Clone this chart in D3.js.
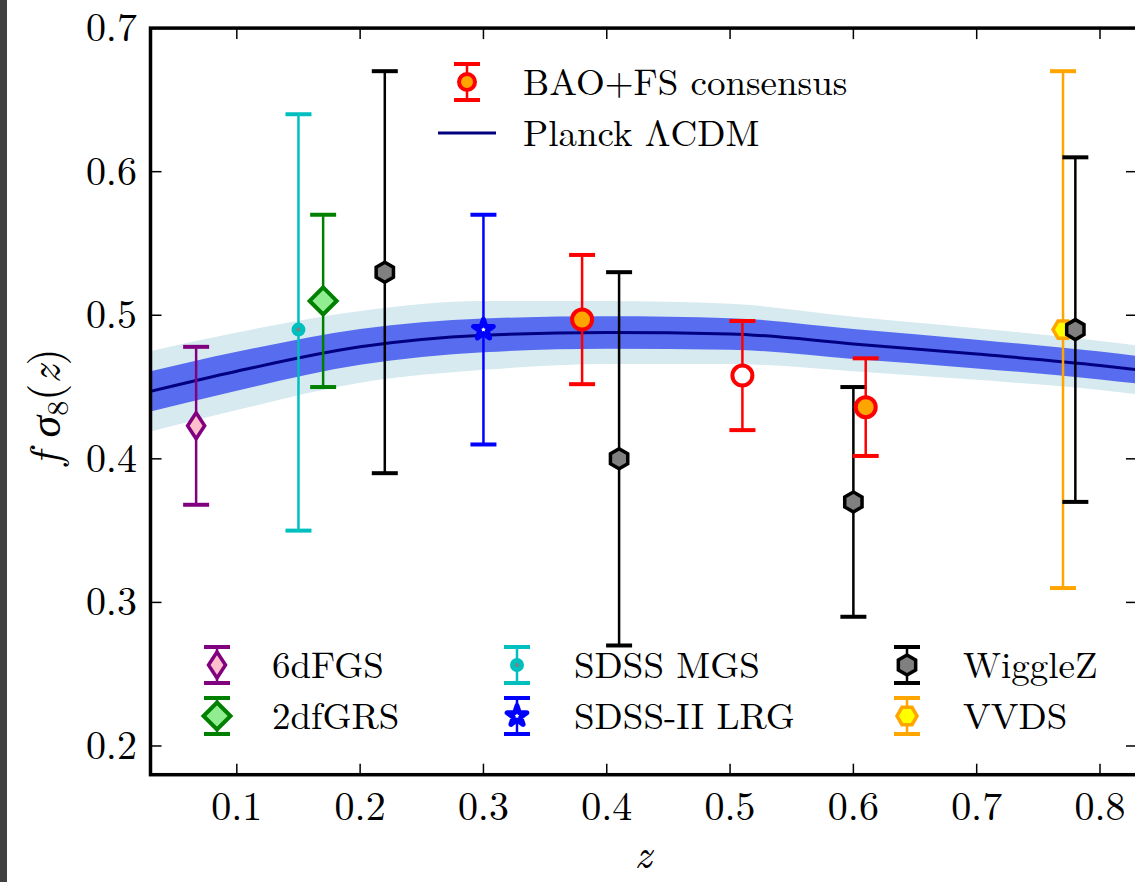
<!DOCTYPE html>
<html>
<head>
<meta charset="utf-8">
<script src="https://cdn.jsdelivr.net/npm/d3@7"></script>
<style>
  html, body { margin: 0; padding: 0; background: #fff; overflow: hidden; }
  svg { display: block; }
</style>
</head>
<body>
<svg id="chart" width="1135" height="882"></svg>
<script>
// ---- Planck LCDM prediction for f*sigma8(z) with 1- and 2-sigma widths ----
const planckZ   = [0.03, 0.1, 0.2, 0.3, 0.4, 0.5, 0.6, 0.7, 0.8, 0.83];
const planckF   = [0.447, 0.461, 0.478, 0.486, 0.488, 0.487, 0.480, 0.473, 0.465, 0.462];
const planck1s  = [0.014, 0.0135, 0.0125, 0.0118, 0.0113, 0.011, 0.0105, 0.0100, 0.0097, 0.0096];
const planck2s  = [0.028, 0.027, 0.025, 0.024, 0.022, 0.021, 0.019, 0.018, 0.017, 0.017];

// ---- measurements ----
const sixdfZ = [0.067], sixdfF = [0.423], sixdfErrLo = [0.055], sixdfErrHi = [0.055];
const twodfZ = [0.17],  twodfF = [0.51],  twodfErrLo = [0.06],  twodfErrHi = [0.06];
const mgsZ   = [0.15],  mgsF   = [0.49],  mgsErrLo   = [0.14],  mgsErrHi   = [0.15];
const lrgZ   = [0.30],  lrgF   = [0.49],  lrgErrLo   = [0.08],  lrgErrHi   = [0.08];
const vvdsZ  = [0.77],  vvdsF  = [0.49],  vvdsErrLo  = [0.18],  vvdsErrHi  = [0.18];
const wigZ   = [0.22, 0.41, 0.60, 0.78];
const wigF   = [0.53, 0.40, 0.37, 0.49];
const wigErr = [0.14, 0.13, 0.08, 0.12];
const baoZ   = [0.38, 0.51, 0.61];
const baoF   = [0.497, 0.458, 0.436];
const baoErr = [0.045, 0.038, 0.034];
const baoFill = ["orange", "white", "orange"];

const xTicks = [0.1, 0.2, 0.3, 0.4, 0.5, 0.6, 0.7, 0.8];
const yTicks = [0.2, 0.3, 0.4, 0.5, 0.6, 0.7];

const FONT = "Latin Modern Roman";
const svg = d3.select("#chart");

// dark strip along the left border
svg.append("rect").attr("x", 0).attr("y", 0).attr("width", 7).attr("height", 882).attr("fill", "#404040");

const L = 150.5, R = 1137, T = 28.1, B = 774.7;
const x = d3.scaleLinear().domain([0.03, 0.83]).range([L, R]);
const y = d3.scaleLinear().domain([0.18, 0.70]).range([B, T]);

svg.append("defs").append("clipPath").attr("id", "plotclip")
  .append("rect").attr("x", L).attr("y", T).attr("width", R - L).attr("height", B - T);

const plot = svg.append("g").attr("clip-path", "url(#plotclip)");

// theory bands and central line
const idx = d3.range(planckZ.length);
const band = w => d3.area().curve(d3.curveMonotoneX)
  .x(i => x(planckZ[i])).y0(i => y(planckF[i] - w[i])).y1(i => y(planckF[i] + w[i]));
plot.append("path").datum(idx).attr("d", band(planck2s)).attr("fill", "#d6eaf0");
plot.append("path").datum(idx).attr("d", band(planck1s)).attr("fill", "#586cf0");
plot.append("path").datum(idx)
  .attr("d", d3.line().curve(d3.curveMonotoneX).x(i => x(planckZ[i])).y(i => y(planckF[i])))
  .attr("fill", "none").attr("stroke", "#000080").attr("stroke-width", 3);

// marker shapes
const diamondThin = "M0,-13L8.5,0L0,13L-8.5,0Z";
const diamondSq   = "M0,-13.5L13.5,0L0,13.5L-13.5,0Z";
const hexPointy = (() => { const r = 10; return "M" + d3.range(6).map(k => { const a = Math.PI / 3 * k - Math.PI / 2; return [r * Math.cos(a), r * Math.sin(a)]; }).join("L") + "Z"; })();
const hexFlat   = (() => { const r = 10; return "M" + d3.range(6).map(k => { const a = Math.PI / 3 * k; return [r * Math.cos(a), r * Math.sin(a)]; }).join("L") + "Z"; })();
const star = d3.symbol().type(d3.symbolStar).size(120)();

function errorbar(g, cx, cy, cyLo, cyHi, color, lw) {
  g.append("line").attr("x1", cx).attr("x2", cx).attr("y1", cyLo).attr("y2", cyHi)
    .attr("stroke", color).attr("stroke-width", lw);
  [cyLo, cyHi].forEach(c => g.append("line").attr("x1", cx - 13).attr("x2", cx + 13).attr("y1", c).attr("y2", c)
    .attr("stroke", color).attr("stroke-width", 4));
}
function marker(g, cx, cy, m) {
  if (m.type === "circle") {
    g.append("circle").attr("cx", cx).attr("cy", cy).attr("r", m.r)
      .attr("fill", m.fill).attr("stroke", m.stroke).attr("stroke-width", m.sw);
  } else {
    g.append("path").attr("d", m.path).attr("transform", `translate(${cx},${cy})`)
      .attr("fill", m.fill).attr("stroke", m.stroke).attr("stroke-width", m.sw)
      .attr("stroke-linejoin", m.join || "miter");
  }
}

const series = [
  { name: "6dFGS", z: sixdfZ, f: sixdfF, lo: sixdfErrLo, hi: sixdfErrHi, color: "purple", lw: 2.5,
    m: { path: diamondThin, fill: "pink", stroke: "purple", sw: 3.5 } },
  { name: "SDSS MGS", z: mgsZ, f: mgsF, lo: mgsErrLo, hi: mgsErrHi, color: "#00bfbf", lw: 2.5,
    m: { type: "circle", r: 4.5, fill: "gray", stroke: "#00bfbf", sw: 5 } },
  { name: "2dfGRS", z: twodfZ, f: twodfF, lo: twodfErrLo, hi: twodfErrHi, color: "green", lw: 2.5,
    m: { path: diamondSq, fill: "lightgreen", stroke: "green", sw: 4 } },
  { name: "SDSS-II LRG", z: lrgZ, f: lrgF, lo: lrgErrLo, hi: lrgErrHi, color: "blue", lw: 2.5,
    m: { path: star, fill: "white", stroke: "blue", sw: 5, join: "round" } },
  { name: "VVDS", z: vvdsZ, f: vvdsF, lo: vvdsErrLo, hi: vvdsErrHi, color: "orange", lw: 2.5,
    m: { path: hexFlat, fill: "yellow", stroke: "orange", sw: 3.5 } },
  { name: "WiggleZ", z: wigZ, f: wigF, lo: wigErr, hi: wigErr, color: "black", lw: 2.5,
    m: { path: hexPointy, fill: "gray", stroke: "black", sw: 3.5 } }
];

const dataG = svg.append("g");
series.forEach(s => {
  s.z.forEach((zv, i) => {
    const g = dataG.append("g");
    errorbar(g, x(zv), y(s.f[i]), y(s.f[i] - s.lo[i]), y(s.f[i] + s.hi[i]), s.color, s.lw);
    marker(g, x(zv), y(s.f[i]), s.m);
  });
});
baoZ.forEach((zv, i) => {
  const g = dataG.append("g");
  errorbar(g, x(zv), y(baoF[i]), y(baoF[i] - baoErr[i]), y(baoF[i] + baoErr[i]), "red", 2.5);
  marker(g, x(zv), y(baoF[i]), { type: "circle", r: 10, fill: baoFill[i], stroke: "red", sw: 4 });
});

// ---- axes frame with inward ticks on all four sides ----
const axes = svg.append("g");
function label(parent, px, py, str, anchor, size) {
  return parent.append("text").attr("x", px).attr("y", py).attr("text-anchor", anchor || "start")
    .attr("font-family", FONT).attr("font-size", size || 40).attr("fill", "#000").text(str);
}
xTicks.forEach(t => {
  axes.append("line").attr("x1", x(t)).attr("x2", x(t)).attr("y1", B).attr("y2", B - 11).attr("stroke", "#000").attr("stroke-width", 1.5);
  axes.append("line").attr("x1", x(t)).attr("x2", x(t)).attr("y1", T).attr("y2", T + 11).attr("stroke", "#000").attr("stroke-width", 1.5);
  label(axes, x(t), 820, d3.format(".1f")(t), "middle");
});
yTicks.forEach(t => {
  axes.append("line").attr("x1", L).attr("x2", L + 11).attr("y1", y(t)).attr("y2", y(t)).attr("stroke", "#000").attr("stroke-width", 1.5);
  axes.append("line").attr("x1", R).attr("x2", R - 11).attr("y1", y(t)).attr("y2", y(t)).attr("stroke", "#000").attr("stroke-width", 1.5);
  label(axes, 137, y(t) + 13, d3.format(".1f")(t), "end");
});
axes.append("rect").attr("x", L).attr("y", T).attr("width", R - L).attr("height", B - T)
  .attr("fill", "none").attr("stroke", "#000").attr("stroke-width", 3.5);

// axis titles
label(svg, 643, 868, "z", "middle", 42).attr("font-style", "italic");
const yl = svg.append("text").attr("transform", "translate(60,407) rotate(-90)").attr("text-anchor", "middle")
  .attr("font-family", FONT).attr("font-size", 44).attr("fill", "#000");
yl.append("tspan").attr("font-style", "italic").text("f");
yl.append("tspan").text(" ");
yl.append("tspan").attr("font-style", "italic").text("\u03c3");
yl.append("tspan").attr("font-size", 30).attr("dy", 8).text("8");
yl.append("tspan").attr("dy", -8).text("(");
yl.append("tspan").attr("font-style", "italic").text("z");
yl.append("tspan").text(")");

// ---- legends ----
const leg = svg.append("g");
function legendEntry(cx, cy, color, m, name, textX) {
  const g = leg.append("g");
  errorbar(g, cx, cy, cy + 18, cy - 18, color, 2.5);
  marker(g, cx, cy, m);
  label(g, textX, cy + 12.5, name, "start", 37);
}
legendEntry(467, 82, "red", { type: "circle", r: 8, fill: "orange", stroke: "red", sw: 4 }, "BAO+FS consensus", 523);
leg.append("line").attr("x1", 438).attr("x2", 496).attr("y1", 133).attr("y2", 133).attr("stroke", "#000080").attr("stroke-width", 3);
label(leg, 523, 145.5, "Planck \u039bCDM", "start", 37);

const lowerCols = [
  { cx: 217, tx: 272, items: [series[0], series[2]] },
  { cx: 517, tx: 574, items: [series[1], series[3]] },
  { cx: 907, tx: 963, items: [series[5], series[4]] }
];
lowerCols.forEach(col => col.items.forEach((s, r) => {
  legendEntry(col.cx, 665 + r * 51, s.color, s.m, s.name, col.tx);
}));
</script>
</body>
</html>
